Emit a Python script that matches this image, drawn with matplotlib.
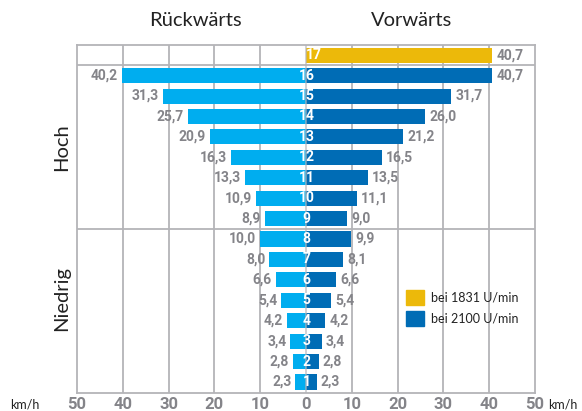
import matplotlib.pyplot as plt
import numpy as np

gears = [1, 2, 3, 4, 5, 6, 7, 8, 9, 10, 11, 12, 13, 14, 15, 16, 17]
rueck = [2.3, 2.8, 3.4, 4.2, 5.4, 6.6, 8.0, 10.0, 8.9, 10.9, 13.3, 16.3, 20.9, 25.7, 31.3, 40.2, None]
vor = [2.3, 2.8, 3.4, 4.2, 5.4, 6.6, 8.1, 9.9, 9.0, 11.1, 13.5, 16.5, 21.2, 26.0, 31.7, 40.7, 40.7]
xticks = [-50, -40, -30, -20, -10, 0, 10, 20, 30, 40, 50]

light = '#00adef'
dark = '#006cb5'
yellow = '#ecb90a'
grid = '#b4b4b8'
lab = '#848489'
numfont = ['Roboto', 'DejaVu Sans']
txtfont = ['Lato', 'DejaVu Sans']

def fmt(v):
    return ('%.1f' % v).replace('.', ',')

fig = plt.figure(figsize=(5.82, 4.11), dpi=100)
ax = fig.add_axes([77/582, 18/411, 458/582, 348/411])

h = 0.74
for g, r, v in zip(gears, rueck, vor):
    if r is not None:
        ax.barh(g, -r, height=h, color=light, zorder=2)
        ax.text(-r - 0.9, g, fmt(r), ha='right', va='center', color=lab,
                fontsize=10, fontweight='bold', family=numfont)
    c = yellow if g == 17 else dark
    ax.barh(g, v, height=h, color=c, zorder=2)
    ax.text(v + 0.9, g, fmt(v), ha='left', va='center', color=lab,
            fontsize=10, fontweight='bold', family=numfont)
    xpos = 1.6 if r is None else 0.1
    ax.text(xpos, g, str(g), ha='center', va='center', color='white',
            fontsize=10, fontweight='bold', family=numfont, zorder=4)

ax.set_xlim(-50, 50)
ax.set_ylim(0.46, 17.5)
for x in xticks[1:-1]:
    if x == 0:
        ax.axvline(x, color=grid, lw=1.2, zorder=3, alpha=0.7)
    else:
        ax.axvline(x, color=grid, lw=1.3, zorder=1)
ax.axhline(16.5, color=grid, lw=1.3, zorder=1)
ax.axhline(8.5, color=grid, lw=1.3, zorder=1)
for s in ax.spines.values():
    s.set_color(grid)
    s.set_linewidth(1.3)

ax.set_xticks(xticks)
ax.set_xticklabels([str(abs(t)) for t in xticks], color=lab, fontsize=12,
                   fontweight='bold', family=numfont)
ax.tick_params(axis='x', length=0, pad=3)
ax.set_yticks([])

fig.text(195/582, 1 - 20/411, 'Rückwärts', ha='center', va='center', fontsize=14.5, family=txtfont, color='#222222')
fig.text(412/582, 1 - 20/411, 'Vorwärts', ha='center', va='center', fontsize=14.5, family=txtfont, color='#222222')
fig.text(62/582, 1 - 147/411, 'Hoch', rotation=90, ha='center', va='center', fontsize=14.5, family=txtfont, color='#222222')
fig.text(62/582, 1 - 298/411, 'Niedrig', rotation=90, ha='center', va='center', fontsize=14.5, family=txtfont, color='#222222')
fig.text(10/582, 1 - 404/411, 'km/h', ha='left', va='center', fontsize=9, family=txtfont, color='#222222')
fig.text(548/582, 1 - 404/411, 'km/h', ha='left', va='center', fontsize=9, family=txtfont, color='#222222')

# legend
ax.add_patch(plt.Rectangle((21.8, 4.75), 3.9, 0.75, color=yellow, zorder=2))
ax.add_patch(plt.Rectangle((21.8, 3.72), 3.9, 0.75, color=dark, zorder=2))
ax.text(27.3, 5.12, 'bei 1831 U/min', va='center', fontsize=9, family=txtfont, color='#222222')
ax.text(27.3, 4.09, 'bei 2100 U/min', va='center', fontsize=9, family=txtfont, color='#222222')

fig.savefig('out.png', dpi=100)
